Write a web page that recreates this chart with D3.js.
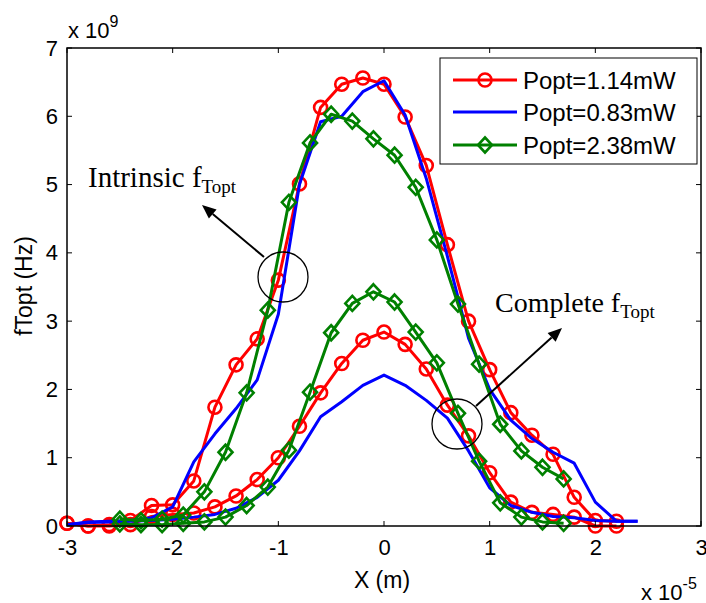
<!DOCTYPE html>
<html><head><meta charset="utf-8">
<script src="https://cdn.jsdelivr.net/npm/d3@7"></script>
<style>html,body{margin:0;padding:0;background:#fff;}</style>
</head><body>
<script>
const xRed = [-3.0,-2.8,-2.6,-2.4,-2.2,-2.0,-1.8,-1.6,-1.4,-1.2,-1.0,-0.8,-0.6,-0.4,-0.2,0.0,0.2,0.4,0.6,0.8,1.0,1.2,1.4,1.6,1.8,2.0,2.2];
const redIntrinsic = [0.04,0.00,0.02,0.08,0.30,0.31,0.66,1.74,2.36,2.74,3.60,5.01,6.13,6.47,6.56,6.47,5.99,5.28,4.12,3.00,2.29,1.66,1.33,1.05,0.42,0.08,0.07];
const redComplete  = [0.04,0.00,0.00,0.02,0.14,0.17,0.19,0.28,0.44,0.68,1.00,1.46,1.95,2.38,2.72,2.84,2.66,2.30,1.77,1.32,0.78,0.35,0.20,0.17,0.13,0.00,0.00];
const xBlue = [-3.0,-2.8,-2.6,-2.4,-2.2,-2.0,-1.8,-1.6,-1.4,-1.2,-1.0,-0.8,-0.6,-0.4,-0.2,0.0,0.2,0.4,0.6,0.8,1.0,1.2,1.4,1.6,1.8,2.0,2.2,2.4];
const blueIntrinsic = [0.02,0.06,0.07,0.08,0.12,0.28,0.94,1.35,1.72,2.14,3.10,5.00,5.92,6.00,6.36,6.52,6.02,5.09,3.95,2.75,2.00,1.55,1.28,1.08,0.92,0.35,0.07,0.07];
const blueComplete  = [0.02,0.05,0.06,0.07,0.08,0.10,0.13,0.17,0.26,0.42,0.67,1.10,1.60,1.82,2.06,2.21,2.06,1.84,1.58,1.10,0.56,0.30,0.20,0.14,0.12,0.08,0.07,0.07];
const xGreen = [-2.5,-2.3,-2.1,-1.9,-1.7,-1.5,-1.3,-1.1,-0.9,-0.7,-0.5,-0.3,-0.1,0.1,0.3,0.5,0.7,0.9,1.1,1.3,1.5,1.7];
const greenIntrinsic = [0.10,0.08,0.10,0.16,0.50,1.08,1.95,3.16,4.74,5.61,6.03,5.93,5.67,5.43,4.96,4.19,3.25,2.37,1.49,1.10,0.86,0.69];
const greenComplete  = [0.03,0.02,0.02,0.04,0.06,0.13,0.30,0.57,1.11,1.96,2.83,3.26,3.43,3.28,2.84,2.39,1.65,0.95,0.34,0.13,0.06,0.04];
const xTicks = [-3,-2,-1,0,1,2,3];
const yTicks = [0,1,2,3,4,5,6,7];
const seriesNames = ["Popt=1.14mW","Popt=0.83mW","Popt=2.38mW"];
const seriesColors = ["#ff0000","#0000ff","#008000"];

const W=706,H=603, L=67,R=701,T=48,B=526;
const svg = d3.select("body").append("svg").attr("width",W).attr("height",H).style("display","block");
const x = d3.scaleLinear().domain([-3,3]).range([L,R]);
const y = d3.scaleLinear().domain([0,7]).range([B,T]);
const font = "Arial, 'Liberation Sans', Helvetica, sans-serif";
const serif = "'Times New Roman','Liberation Serif',serif";

const line = d3.line().x(d=>x(d[0])).y(d=>y(d[1]));
const zip = (xs,ys)=>xs.map((v,i)=>[v,ys[i]]);

const series = [
  {x:xRed, ys:[redIntrinsic, redComplete], c:seriesColors[0], m:"circle"},
  {x:xBlue, ys:[blueIntrinsic, blueComplete], c:seriesColors[1], m:null},
  {x:xGreen, ys:[greenIntrinsic, greenComplete], c:seriesColors[2], m:"diamond"}
];
function marker(g, type, cx, cy, c){
  if(type==="circle") g.append("circle").attr("cx",cx).attr("cy",cy).attr("r",6.5).attr("fill","none").attr("stroke",c).attr("stroke-width",2.6);
  else if(type==="diamond") g.append("path").attr("d",`M${cx},${cy-7.5}L${cx+7},${cy}L${cx},${cy+7.5}L${cx-7},${cy}Z`).attr("fill","none").attr("stroke",c).attr("stroke-width",2.6);
}
const plot = svg.append("g");
series.forEach(s=>{
  s.ys.forEach(ys=>{
    const pts = zip(s.x, ys);
    plot.append("path").attr("d",line(pts)).attr("fill","none").attr("stroke",s.c).attr("stroke-width",3).attr("stroke-linejoin","round");
    if(s.m) pts.forEach(p=>marker(plot, s.m, x(p[0]), y(p[1]), s.c));
  });
});

// axes box
svg.append("rect").attr("x",L).attr("y",T).attr("width",R-L).attr("height",B-T).attr("fill","none").attr("stroke","#000").attr("stroke-width",1.5);
const axB = svg.append("g").attr("transform",`translate(0,${B})`).call(d3.axisBottom(x).tickValues(xTicks).tickSize(0).tickPadding(13).tickFormat(d=>String(d)));
const axL = svg.append("g").attr("transform",`translate(${L},0)`).call(d3.axisLeft(y).tickValues(yTicks).tickSize(0).tickPadding(9).tickFormat(d=>String(d)));
[axB,axL].forEach(a=>{a.select(".domain").remove(); a.selectAll("text").attr("font-family",font).attr("font-size",22).attr("fill","#000");});
axB.selectAll("text").attr("dy","0.71em");
// inner ticks all sides
const tk = svg.append("g").attr("stroke","#000").attr("stroke-width",1);
xTicks.forEach(v=>{tk.append("line").attr("x1",x(v)).attr("x2",x(v)).attr("y1",B).attr("y2",B-5);
  tk.append("line").attr("x1",x(v)).attr("x2",x(v)).attr("y1",T).attr("y2",T+5);});
yTicks.forEach(v=>{tk.append("line").attr("x1",L).attr("x2",L+5).attr("y1",y(v)).attr("y2",y(v));
  tk.append("line").attr("x1",R).attr("x2",R-5).attr("y1",y(v)).attr("y2",y(v));});

// exponent labels
const e1 = svg.append("text").attr("x",68).attr("y",38).attr("font-family",font).attr("font-size",22);
e1.append("tspan").text("x 10");
e1.append("tspan").attr("dy",-11).attr("font-size",16).text("9");
const e2 = svg.append("text").attr("x",641).attr("y",600).attr("font-family",font).attr("font-size",22);
e2.append("tspan").text("x 10");
e2.append("tspan").attr("dy",-11).attr("font-size",16).text("-5");

// axis labels
svg.append("text").attr("x",(L+R)/2-2).attr("y",588).attr("text-anchor","middle").attr("font-family",font).attr("font-size",23).text("X (m)");
svg.append("text").attr("transform","translate(32,286) rotate(-90)").attr("text-anchor","middle").attr("font-family",font).attr("font-size",23).text("fTopt (Hz)");

// legend
const lg = svg.append("g");
lg.append("rect").attr("x",440).attr("y",58).attr("width",257).attr("height",106).attr("fill","#fff").attr("stroke","#000").attr("stroke-width",1);
const rowsY=[80,112,145];
series.forEach((s,i)=>{
  lg.append("line").attr("x1",453).attr("x2",517).attr("y1",rowsY[i]).attr("y2",rowsY[i]).attr("stroke",s.c).attr("stroke-width",3);
  if(s.m) marker(lg, s.m, 485, rowsY[i], s.c);
  lg.append("text").attr("x",523).attr("y",rowsY[i]).attr("dy","0.36em").attr("font-family",font).attr("font-size",24).text(seriesNames[i]);
});

// annotations
function arrow(x1,y1,x2,y2){
  const g=svg.append("g");
  const ang=Math.atan2(y2-y1,x2-x1), len=14, w=6;
  const bx=x2-len*Math.cos(ang), by=y2-len*Math.sin(ang);
  g.append("line").attr("x1",x1).attr("y1",y1).attr("x2",bx).attr("y2",by).attr("stroke","#000").attr("stroke-width",2);
  g.append("path").attr("d",`M${x2},${y2}L${bx+w*Math.sin(ang)},${by-w*Math.cos(ang)}L${bx-w*Math.sin(ang)},${by+w*Math.cos(ang)}Z`).attr("fill","#000");
}
svg.append("circle").attr("cx",283).attr("cy",277).attr("r",25).attr("fill","none").attr("stroke","#000").attr("stroke-width",1.3);
svg.append("circle").attr("cx",457).attr("cy",424).attr("r",25).attr("fill","none").attr("stroke","#000").attr("stroke-width",1.3);
arrow(264,257,202,205);
arrow(476,406,562,328);
const t1=svg.append("text").attr("x",88).attr("y",187).attr("font-family",serif).attr("font-size",29);
t1.append("tspan").text("Intrinsic f");
t1.append("tspan").attr("dy",6).attr("font-size",19).text("Topt");
const t2=svg.append("text").attr("x",495).attr("y",312).attr("font-family",serif).attr("font-size",28);
t2.append("tspan").text("Complete f");
t2.append("tspan").attr("dy",6).attr("font-size",19).text("Topt");
</script>
</body></html>
